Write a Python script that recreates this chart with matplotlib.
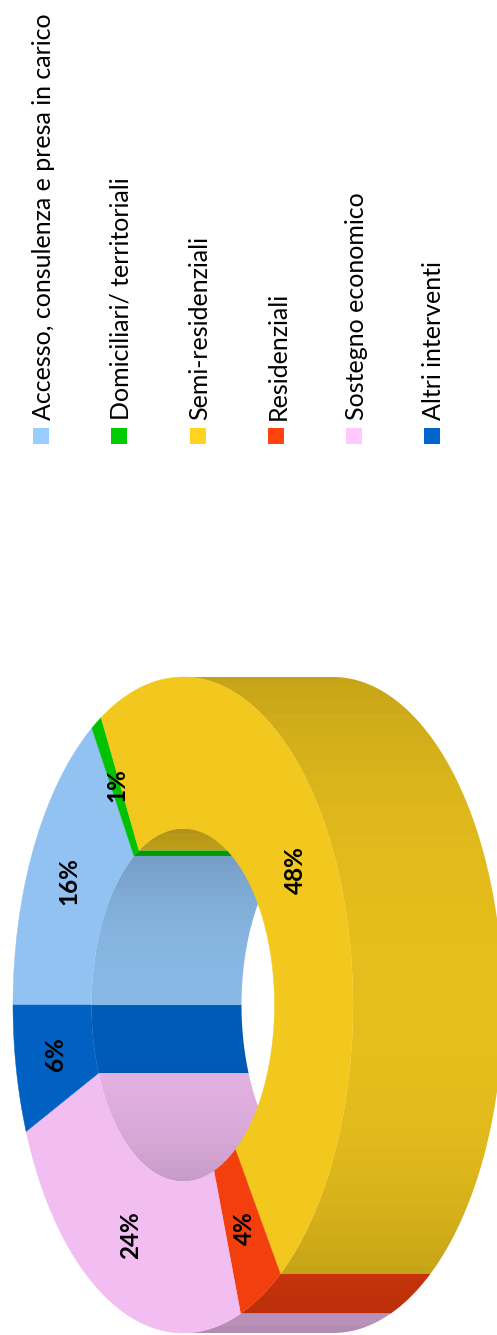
import numpy as np
import matplotlib
matplotlib.use("Agg")
import matplotlib.pyplot as plt
from matplotlib.patches import Polygon, Rectangle
from matplotlib.colors import to_rgb

categories = ["Accesso, consulenza e presa in carico", "Domiciliari/ territoriali",
              "Semi-residenziali", "Residenziali", "Sostegno economico", "Altri interventi"]
shares = [16.0, 1.0, 48.3, 4.2, 24.2, 6.3]
colors = ["#99CCFF", "#00CC00", "#FFD320", "#FF420E", "#FFC8FF", "#0066CC"]

W, H = 497, 1335
CX, CY = 183, 1005
OUT_A, OUT_B = 170, 328
IN_A, IN_B = 91.5, 176.5
DEPTH = 150

# where the percent labels sit (centre of text)
label_xy = [(69, 881), (117, 785), (295, 870), (244, 1228), (131, 1235), (55, 1054)]
legend_x = [33, 111, 189.5, 268, 346, 423.5]


def arc(a, b, t1, t2, dx=0):
    th = np.radians(np.linspace(t1, t2, 200))
    return np.column_stack([CX + dx + a * np.cos(th), CY - b * np.sin(th)])


def shade_img(base, b, drop_up, drop_down):
    # walls get darker away from the middle, not by the same amount up and down
    y = np.arange(H) + 0.5
    t = np.abs(y - CY) / b
    t = np.round(t * 22) / 22
    drop = np.where(y < CY, drop_up, drop_down)
    s = np.clip(0.90 - drop * t ** 2.5, 0, 1)
    return (np.array(to_rgb(base))[None, None, :] * s[:, None, None])


def wall(ax, a, b, t1, t2, base, z, drop_up, drop_down):
    # band between the arc on the top face and the same arc pushed back by DEPTH
    pts = np.vstack([arc(a, b, t1, t2), arc(a, b, t2, t1, DEPTH)])
    poly = Polygon(pts, closed=True, transform=ax.transData, fc="none", ec="none")
    ax.add_patch(poly)
    im = ax.imshow(shade_img(base, b, drop_up, drop_down), extent=(0, W, H, 0),
                   origin="upper", aspect="auto", zorder=z, interpolation="nearest")
    im.set_clip_path(poly)


def overlap(t1, t2, lo, hi):
    # t1 > t2, both in degrees
    top, bot = min(t1, hi), max(t2, lo)
    return (top, bot) if top > bot else None


fig = plt.figure(figsize=(W / 100, H / 100), dpi=100)
ax = fig.add_axes([0, 0, 1, 1])

edges = 180 - 3.6 * np.concatenate([[0], np.cumsum(shares)])

for i, base in enumerate(colors):
    t1, t2 = edges[i], edges[i + 1]
    # hole walls, left half only
    for lo, hi in [(90, 180), (-180, -90)]:
        part = overlap(t1, t2, lo, hi)
        if part:
            wall(ax, IN_A, IN_B, part[0], part[1], base, 1, 0.20, 0.12)
    # outer walls, right half only
    part = overlap(t1, t2, -90, 90)
    if part:
        wall(ax, OUT_A, OUT_B, part[0], part[1], base, 2, 0.12, 0.20)

for i, base in enumerate(colors):
    t1, t2 = edges[i], edges[i + 1]
    pts = np.vstack([arc(OUT_A, OUT_B, t1, t2), arc(IN_A, IN_B, t2, t1)])
    top = tuple(0.95 * c for c in to_rgb(base))
    ax.add_patch(Polygon(pts, closed=True, fc=top, ec=top, lw=0.3, zorder=3))
    ax.text(label_xy[i][0], label_xy[i][1], "%.0f%%" % shares[i], rotation=90,
            ha="center", va="center", fontsize=17.5, fontweight="bold",
            family="Lato", color="black", zorder=5)

for i, name in enumerate(categories):
    x = legend_x[i]
    ax.add_patch(Rectangle((x, 428), 16, 16, fc=colors[i], ec="none", zorder=3))
    ax.text(x + 17.7, 420, name, rotation=90, rotation_mode="anchor", ha="left",
            va="baseline", fontsize=18, family="Lato", color="black", zorder=5)

ax.set_xlim(0, W)
ax.set_ylim(H, 0)
ax.axis("off")
fig.savefig("out.png", dpi=100, facecolor="white")
